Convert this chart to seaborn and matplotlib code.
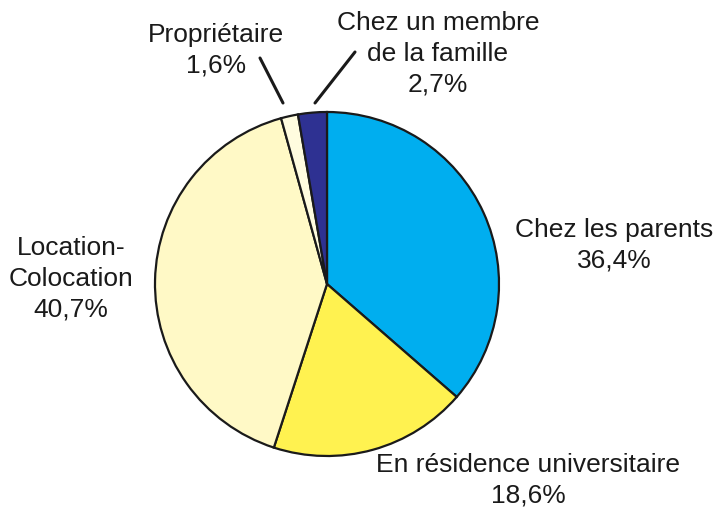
import matplotlib
matplotlib.use('Agg')
import matplotlib.pyplot as plt
import seaborn as sns

# data, clockwise from the top
labels = ['Chez les parents', 'En résidence universitaire', 'Location-\nColocation',
          'Propriétaire', 'Chez un membre\nde la famille']
values = [36.4, 18.6, 40.7, 1.6, 2.7]
pct_text = ['36,4%', '18,6%', '40,7%', '1,6%', '2,7%']
colors = ['#00AEEF', '#FFF250', '#FFF9C6', '#FFFCDF', '#2E3192']

sns.set_theme(style='white')
plt.rcParams['font.family'] = ['Liberation Sans', 'DejaVu Sans']

fig = plt.figure(figsize=(7.15, 5.08), dpi=100)
# center around (327, 284) px, radius 172 px
ax = fig.add_axes([155/715, (508-456)/508, 344/715, 344/508])
ax.pie(values, colors=sns.color_palette(colors), startangle=90, counterclock=False,
       wedgeprops=dict(edgecolor='#1a1a1a', linewidth=1.6))
ax.set_xlim(-1, 1)
ax.set_ylim(-1, 1)
ax.set_aspect('equal')
ax.axis('off')

# label positions (data coords, radius = 1)
pos = [(1.669, 0.227), (1.169, -1.14), (-1.488, 0.029), (-0.645, 1.36), (0.645, 1.337)]
for lab, pt, (x, y) in zip(labels, pct_text, pos):
    ax.text(x, y, lab + '\n' + pt, ha='center', va='center', fontsize=19,
            linespacing=1.35, color='#1a1a1a', clip_on=False)

def px(x, y):
    return (x - 327) / 172, (284 - y) / 172

# leader lines for the two small slices
for (x0, y0), (x1, y1) in [((260, 58), (283, 103)), ((355, 52), (315, 103))]:
    a, b = px(x0, y0)
    c, d = px(x1, y1)
    ax.plot([a, c], [b, d], color='#1a1a1a', lw=2.2, clip_on=False)

fig.savefig('out.png', dpi=100)
